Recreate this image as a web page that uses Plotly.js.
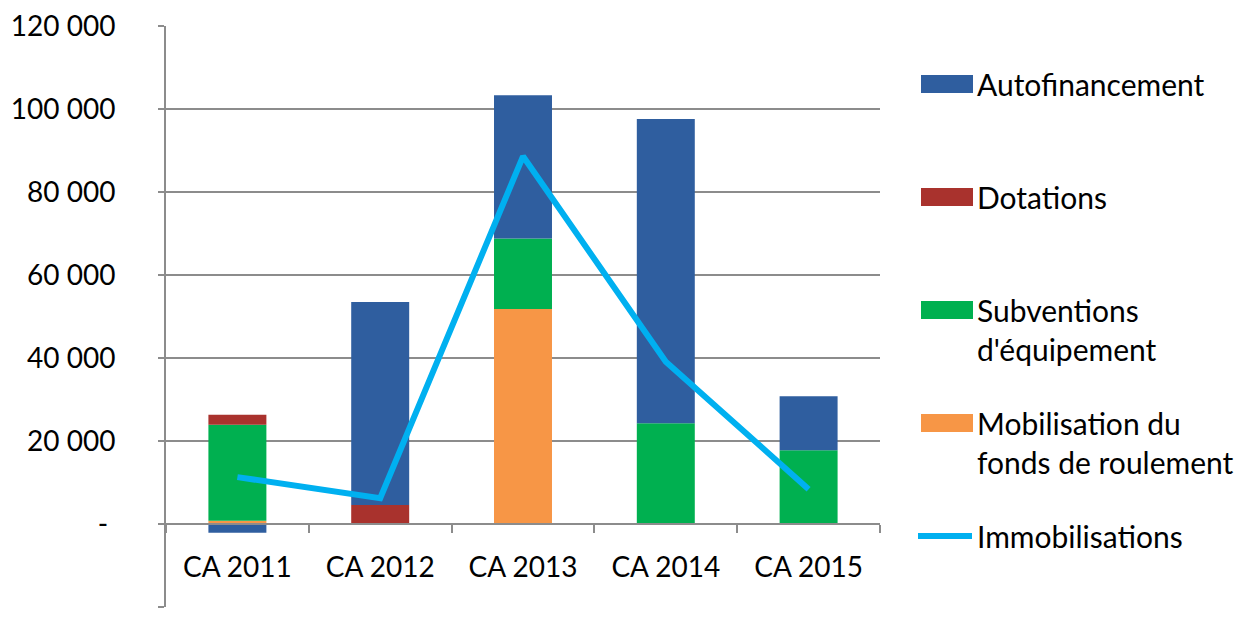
<!DOCTYPE html>
<html>
<head>
<meta charset="utf-8">
<script src="https://cdn.plot.ly/plotly-3.0.1.min.js"></script>
<style>
  html, body { margin: 0; padding: 0; background: #fff; }
  #chart { width: 1241px; height: 618px; }
</style>
</head>
<body>
<div id="chart"></div>
<script>
const categories = ['CA 2011', 'CA 2012', 'CA 2013', 'CA 2014', 'CA 2015'];
const mobilisation = [800, 0, 51800, 0, 0];
const subventions = [23100, 0, 17000, 24300, 17800];
const dotations = [2400, 4600, 0, 0, 0];
const autofinancement = [-2100, 48900, 34500, 73300, 13000];
const immobilisations = [11300, 6200, 88600, 39100, 8400];

const yTickVals = [-20000, 0, 20000, 40000, 60000, 80000, 100000, 120000];
const yTickText = ['-20 000', '-\u00a0', '20 000', '40 000', '60 000', '80 000', '100 000', '120 000'];

const FONT = 'Lato, "Open Sans", sans-serif';

const traces = [
  { type: 'bar', name: 'Mobilisation du<br>fonds de roulement', x: categories, y: mobilisation,
    marker: { color: '#f79646' }, legendrank: 4, legendgroup: 'g4' },
  { type: 'bar', name: "Subventions<br>d'équipement", x: categories, y: subventions,
    marker: { color: '#00b050' }, legendrank: 3, legendgroup: 'g3' },
  { type: 'bar', name: 'Dotations<br>\u00a0', x: categories, y: dotations,
    marker: { color: '#a9322d' }, legendrank: 2, legendgroup: 'g2' },
  { type: 'bar', name: 'Autofinancement<br>\u00a0', x: categories, y: autofinancement,
    marker: { color: '#2f5e9f' }, legendrank: 1, legendgroup: 'g1' },
  { type: 'scatter', mode: 'lines', name: 'Immobilisations', x: categories, y: immobilisations,
    line: { color: '#00b0f0', width: 6 }, legendrank: 5, legendgroup: 'g5' }
];

const layout = {
  width: 1241, height: 618,
  margin: { l: 166, r: 361, t: 26, b: 11 },
  paper_bgcolor: '#ffffff', plot_bgcolor: '#ffffff',
  font: { family: FONT, size: 28, color: '#000000' },
  barmode: 'relative',
  bargap: 0.594,
  showlegend: true,
  hovermode: false,
  legend: {
    xref: 'container', yref: 'container',
    x: 913 / 1241, y: 1 - 58 / 618, xanchor: 'left', yanchor: 'top',
    traceorder: 'grouped', tracegroupgap: 32, valign: 'top',
    itemwidth: 54,
    maxheight: 600,
    font: { family: FONT, size: 30, color: '#000000' },
    bgcolor: 'rgba(0,0,0,0)'
  },
  xaxis: {
    type: 'category',
    anchor: 'free', position: 1 / 7,
    showline: true, linecolor: '#8c8c8c', linewidth: 2,
    showgrid: false, zeroline: false,
    ticks: 'outside', ticklen: 8, tickwidth: 2, tickcolor: '#8c8c8c',
    tickson: 'boundaries',
    ticklabelstandoff: 18,
    tickfont: { family: FONT, size: 28, color: '#000000' }
  },
  yaxis: {
    range: [-20000, 120000],
    tickvals: yTickVals, ticktext: yTickText,
    showline: true, linecolor: '#8c8c8c', linewidth: 2,
    showgrid: true, gridcolor: '#8c8c8c', gridwidth: 2,
    zeroline: false,
    ticks: 'outside', ticklen: 6, tickwidth: 2, tickcolor: '#8c8c8c',
    ticklabelstandoff: 37,
    tickfont: { family: FONT, size: 28, color: '#000000' }
  }
};

function enlargeSwatches(gd) {
  gd.querySelectorAll('.legend .legendpoints path').forEach(function (p) {
    const d = p.getAttribute('d') || '';
    if (d.replace(/\s/g, '') === 'M6,6H-6V-6H6Z') {
      p.setAttribute('d', 'M28,9H-24V-9H28Z');
    }
  });
}

Plotly.newPlot('chart', traces, layout, { displayModeBar: false, staticPlot: true }).then(function (gd) {
  enlargeSwatches(gd);
  setTimeout(function () { enlargeSwatches(gd); }, 50);
});
</script>
</body>
</html>
